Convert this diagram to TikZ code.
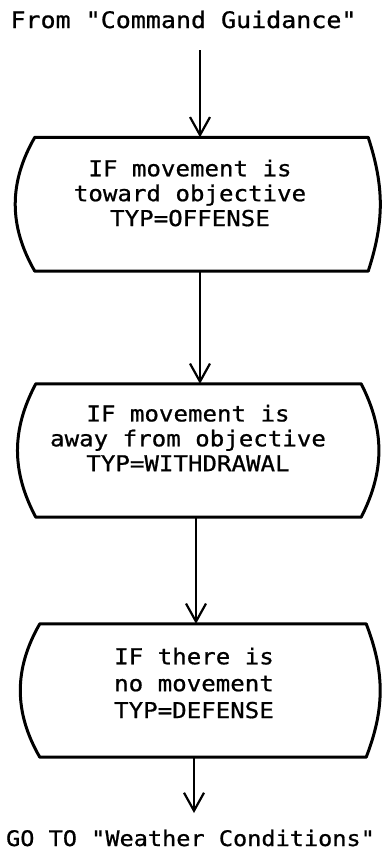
\documentclass[tikz,border=0pt]{standalone}
\usepackage{fontspec}
\setmonofont[FakeStretch=1.1,FakeBold=0.8]{DejaVu Sans Mono}
\usetikzlibrary{arrows.meta}
\begin{document}
\begin{tikzpicture}[x=1bp,y=-1bp,
  every node/.style={font=\ttfamily\fontsize{22}{25}\selectfont},
  txt/.style={align=center, inner sep=0pt},
  frame/.style={rectangle, inner sep=0pt},
  outline/.style={line width=3bp, line join=round},
  flow/.style={line width=2.2bp, -{Straight Barb[length=18bp,width=20bp]}}]
\useasboundingbox (0,0) rectangle (381,852);
% title
\node[txt, anchor=base, font=\ttfamily\fontsize{22.8}{25}\selectfont] (title) at (183.5,28) {From "Command Guidance"};
% boxes
\node[frame, minimum width=333bp, minimum height=133.5bp] (b1) at (201.5,204.25) {};
\node[frame, minimum width=325bp, minimum height=133bp] (b2) at (198.5,450.5) {};
\node[frame, minimum width=326bp, minimum height=133bp] (b3) at (203,690.5) {};
\draw[outline] (b1.north west) -- (b1.north east) to[bend left=18] (b1.south east) -- (b1.south west) to[bend left=30] (b1.north west) -- cycle;
\draw[outline] (b2.north west) -- (b2.north east) to[bend left=27] (b2.south east) -- (b2.south west) to[bend left=28] (b2.north west) -- cycle;
\draw[outline] (b3.north west) -- (b3.north east) to[bend left=21] (b3.south east) -- (b3.south west) to[bend left=30] (b3.north west) -- cycle;
% texts
\node[txt] (t1) at (190,193) {IF movement is\\toward objective\\TYP=OFFENSE};
\node[txt] (t2) at (188,438) {IF movement is\\away from objective\\TYP=WITHDRAWAL};
\node[txt, font=\ttfamily\fontsize{22}{27}\selectfont] (t3) at (194,683) {IF there is\\no movement\\TYP=DEFENSE};
\node[txt, anchor=base, font=\ttfamily\fontsize{21.5}{25}\selectfont] (goto) at (190.5,846) {GO TO "Weather Conditions"};
% connectors
\coordinate (s0) at (200,50);
\coordinate (x3) at (196,0);
\coordinate (x4) at (194,0);
\coordinate (e4) at (194,813);
\draw[flow] (s0) -- (s0 |- b1.north);
\draw[flow] (b1.south -| s0) -- (b2.north -| s0);
\draw[flow] (b2.south -| x3) -- (b3.north -| x3);
\draw[flow] (b3.south -| x4) -- (e4);
\end{tikzpicture}
\end{document}
